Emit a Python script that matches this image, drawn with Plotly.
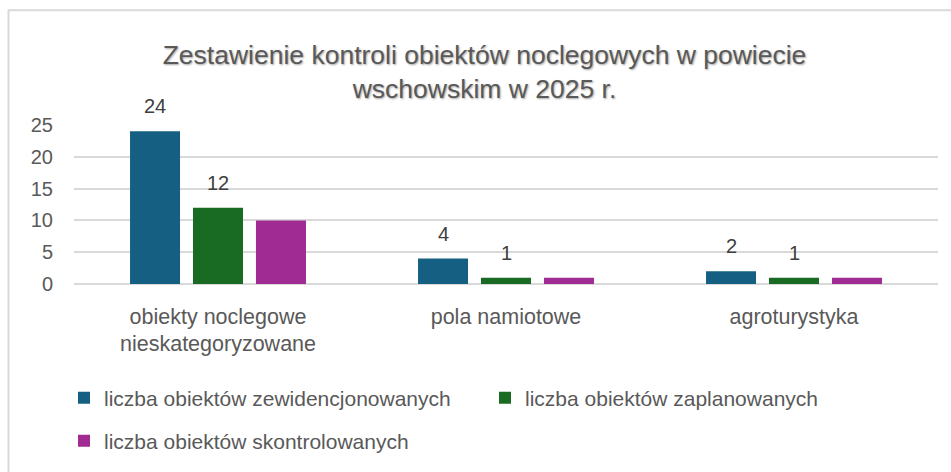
import plotly.graph_objects as go

categories = ["obiekty noclegowe<br>nieskategoryzowane", "pola namiotowe", "agroturystyka"]
series_names = [
    "liczba obiektów zewidencjonowanych",
    "liczba obiektów zaplanowanych",
    "liczba obiektów skontrolowanych",
]
zewidencjonowane = [24, 4, 2]
zaplanowane = [12, 1, 1]
skontrolowane = [10, 1, 1]
y_ticks = [0, 5, 10, 15, 20, 25]
title_text = "Zestawienie kontroli obiektów noclegowych w powiecie<br>wschowskim w 2025 r."

colors = ["#156082", "#196B24", "#A02B93"]
values = [zewidencjonowane, zaplanowane, skontrolowane]
show_labels = [True, True, False]
legends = ["legend", "legend", "legend2"]

W, H = 951, 472
ML, MR, MT, MB = 74, 13, 125, 187
PW = W - ML - MR
PH = H - MT - MB
BARGAP = 0.344
BARGROUPGAP = 0.206

fig = go.Figure()
for i, (name, vals, col) in enumerate(zip(series_names, values, colors)):
    fig.add_trace(go.Bar(
        x=categories, y=vals, name=name,
        marker=dict(color=col, line=dict(width=0)),
        legend=legends[i],
        hoverinfo="y+name",
    ))

annotations = []
slot = (1 - BARGAP) / 3
for j, vals in enumerate(values):
    if not show_labels[j]:
        continue
    for i, v in enumerate(vals):
        annotations.append(dict(
            x=i + (j - 1) * slot, y=v, xref="x", yref="y",
            text=str(v), showarrow=False, yanchor="middle", yshift=25,
            font=dict(family="Liberation Sans, Arial", size=20, color="#404040"),
        ))

def py(ypix):
    return (MT + PH - ypix) / PH

def px(xpix):
    return (xpix - ML) / PW

fig.update_layout(
    width=W, height=H,
    margin=dict(l=ML, r=MR, t=MT, b=MB, pad=0),
    paper_bgcolor="white", plot_bgcolor="white",
    barmode="group", bargap=BARGAP, bargroupgap=BARGROUPGAP,
    title=dict(
        text=title_text, x=484.5 / W, xref="container", xanchor="center",
        y=1 - 64 / H, yref="container", yanchor="middle",
        font=dict(family="Liberation Sans, Arial", size=26.5, color="#595959",
                  shadow="1px 1px 2px rgba(0,0,0,0.35)"),
    ),
    xaxis=dict(
        type="category", showgrid=False, showline=False, ticks="",
        tickfont=dict(family="Liberation Sans, Arial", size=21.5, color="#595959"),
        ticklabelstandoff=17,
    ),
    yaxis=dict(
        range=[0, 25], tickvals=y_ticks, showgrid=True, gridcolor="#d9d9d9", gridwidth=1.5,
        zeroline=True, zerolinecolor="#d9d9d9", zerolinewidth=1.5, showline=False, ticks="",
        tickfont=dict(family="Liberation Sans, Arial", size=20, color="#595959"),
        ticklabelstandoff=20,
    ),
    legend=dict(
        orientation="h", x=px(64), xanchor="left", y=py(398), yanchor="middle",
        font=dict(family="Liberation Sans, Arial", size=21, color="#595959"),
        entrywidth=376, entrywidthmode="pixels", bgcolor="rgba(0,0,0,0)",
        itemclick=False, itemdoubleclick=False,
    ),
    legend2=dict(
        orientation="h", x=px(64), xanchor="left", y=py(441), yanchor="middle",
        font=dict(family="Liberation Sans, Arial", size=21, color="#595959"),
        bgcolor="rgba(0,0,0,0)", itemclick=False, itemdoubleclick=False,
    ),
    annotations=annotations,
    shapes=[dict(
        type="rect", xref="paper", yref="paper",
        x0=px(8.5), x1=px(W + 20), y0=py(H + 20), y1=py(9.5),
        line=dict(color="#d9d9d9", width=2), fillcolor="rgba(0,0,0,0)", layer="below",
    )],
)

fig.write_html(
    "out.html",
    config={"displayModeBar": False},
    post_script="document.body.style.margin='0';document.body.style.overflow='hidden';",
)
